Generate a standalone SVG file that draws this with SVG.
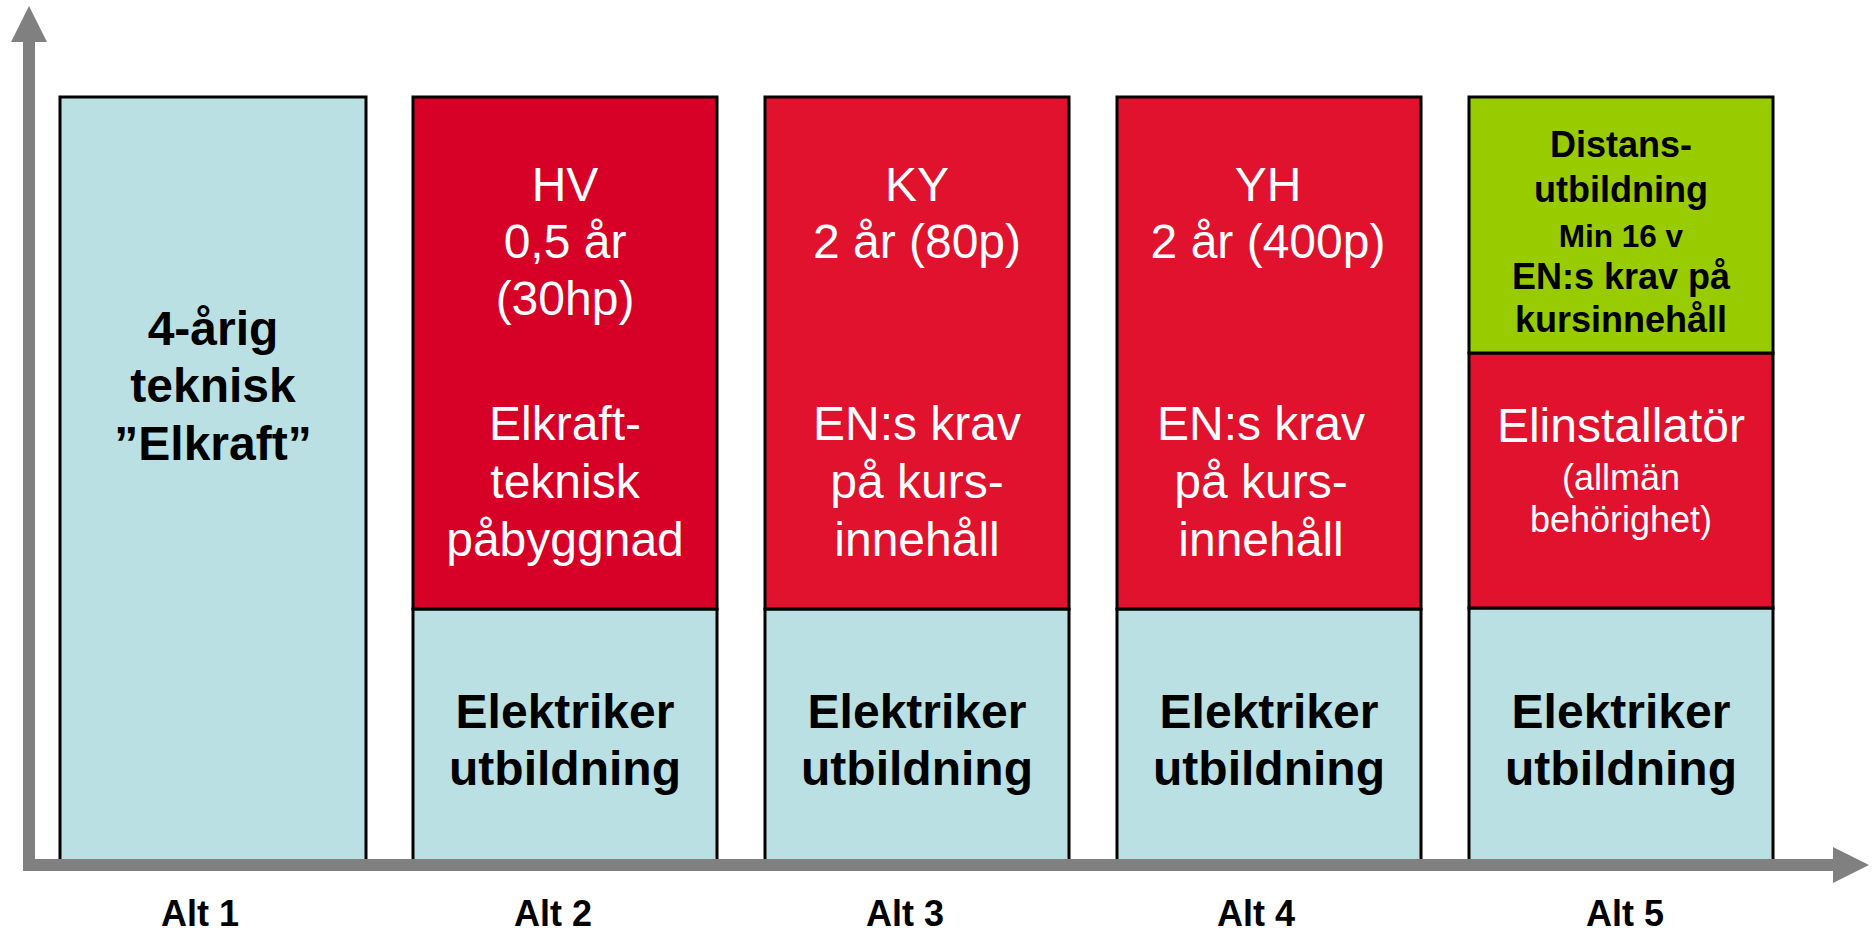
<svg xmlns="http://www.w3.org/2000/svg" width="1873" height="932" viewBox="0 0 1873 932">
<style>
.box{stroke:#000;stroke-width:3}
.blue{fill:#BBE0E3}
.red1{fill:#D70027}
.red{fill:#E0122E}
.green{fill:#99CC00}
text{font-family:"Liberation Sans",Arial,sans-serif;text-anchor:middle}
.w{fill:#fff;font-size:48px}
.b{fill:#000;font-size:48px;font-weight:bold}
.g{fill:#000;font-size:36px;font-weight:bold}
.alt{fill:#000;font-size:36px;font-weight:bold}
</style>
<rect width="1873" height="932" fill="#fff"/>
<g id="alt1">
<rect class="box blue" x="60" y="97" width="306" height="770"/>
<text class="b" x="213" y="345">4-årig</text>
<text class="b" x="213" y="402">teknisk</text>
<text class="b" x="213" y="460">”Elkraft”</text>
</g>
<g id="alt2">
<rect class="box blue" x="413" y="609" width="304" height="258"/>
<rect class="box red1" x="413" y="97" width="304" height="512"/>
<text class="w" x="565" y="201">HV</text>
<text class="w" x="565" y="258">0,5 år</text>
<text class="w" x="565" y="315">(30hp)</text>
<text class="w" x="565" y="440">Elkraft-</text>
<text class="w" x="565" y="498">teknisk</text>
<text class="w" x="565" y="556">påbyggnad</text>
<text class="b" x="565" y="728">Elektriker</text>
<text class="b" x="565" y="785">utbildning</text>
</g>
<g id="alt3">
<rect class="box blue" x="765" y="609" width="304" height="258"/>
<rect class="box red" x="765" y="97" width="304" height="512"/>
<text class="w" x="917" y="201">KY</text>
<text class="w" x="917" y="258">2 år (80p)</text>
<text class="w" x="917" y="440">EN:s krav</text>
<text class="w" x="917" y="498">på kurs-</text>
<text class="w" x="917" y="556">innehåll</text>
<text class="b" x="917" y="728">Elektriker</text>
<text class="b" x="917" y="785">utbildning</text>
</g>
<g id="alt4">
<rect class="box blue" x="1117" y="609" width="304" height="258"/>
<rect class="box red" x="1117" y="97" width="304" height="512"/>
<text class="w" x="1268" y="201">YH</text>
<text class="w" x="1268" y="258">2 år (400p)</text>
<text class="w" x="1261" y="440">EN:s krav</text>
<text class="w" x="1261" y="498">på kurs-</text>
<text class="w" x="1261" y="556">innehåll</text>
<text class="b" x="1269" y="728">Elektriker</text>
<text class="b" x="1269" y="785">utbildning</text>
</g>
<g id="alt5">
<rect class="box blue" x="1469" y="608" width="304" height="259"/>
<rect class="box red" x="1469" y="353" width="304" height="255"/>
<rect class="box green" x="1469" y="97" width="304" height="256"/>
<text class="g" x="1621" y="157">Distans-</text>
<text class="g" x="1621" y="202">utbildning</text>
<text class="g" x="1621" y="247" style="font-size:31.5px">Min 16 v</text>
<text class="g" x="1621" y="289">EN:s krav på</text>
<text class="g" x="1621" y="332">kursinnehåll</text>
<text class="w" x="1621" y="442">Elinstallatör</text>
<text class="w" x="1621" y="490" style="font-size:36px">(allmän</text>
<text class="w" x="1621" y="532" style="font-size:36px">behörighet)</text>
<text class="b" x="1621" y="728">Elektriker</text>
<text class="b" x="1621" y="785">utbildning</text>
</g>
<g id="axes">
<polyline points="29,40 29,865 1835,865" fill="none" stroke="#808080" stroke-width="12" stroke-linejoin="miter"/>
<polygon points="29,6 47,42 11,42" fill="#808080"/>
<polygon points="1869,865 1833,847 1833,883" fill="#808080"/>
</g>
<g id="labels">
<text class="alt" x="200" y="926">Alt 1</text>
<text class="alt" x="553" y="926">Alt 2</text>
<text class="alt" x="905" y="926">Alt 3</text>
<text class="alt" x="1256" y="926">Alt 4</text>
<text class="alt" x="1625" y="926">Alt 5</text>
</g>
</svg>
